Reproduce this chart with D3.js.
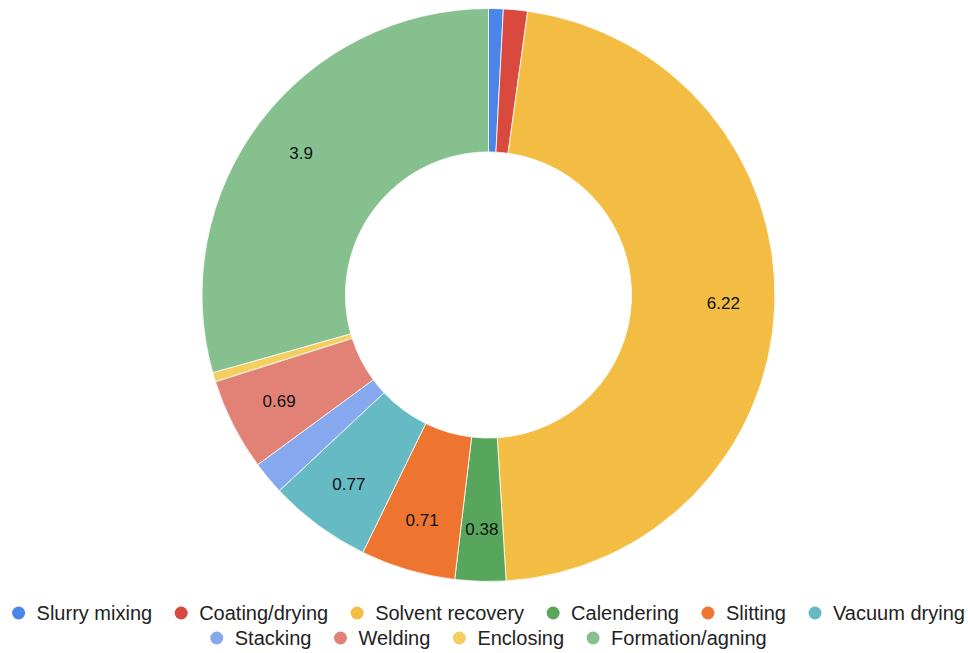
<!DOCTYPE html>
<html>
<head>
<meta charset="utf-8">
<script src="https://cdn.jsdelivr.net/npm/d3@7"></script>
<style>
  html, body { margin: 0; padding: 0; background: #fff; }
  svg { display: block; font-family: "Liberation Sans", Arial, Helvetica, sans-serif; }
</style>
</head>
<body>
<svg id="chart" width="968" height="653"></svg>
<script>
// Energy use per production step
const categories = ["Slurry mixing", "Coating/drying", "Solvent recovery", "Calendering", "Slitting",
                    "Vacuum drying", "Stacking", "Welding", "Enclosing", "Formation/agning"];
const values = [0.11, 0.18, 6.22, 0.38, 0.71, 0.77, 0.25, 0.69, 0.07, 3.9];
const colors = ["#4a86e8", "#d9493e", "#f2bd42", "#57a65b", "#ee7530",
                "#65bac4", "#86a8ee", "#e28277", "#f4cf5f", "#85c08e"];
// Legend rows (indices into categories)
const legendRows = [[0, 1, 2, 3, 4, 5], [6, 7, 8, 9]];

const W = 968, H = 653;
const cx = 488.5, cy = 295;
const outerR = 286.5, innerR = 143;
const labelR = 235;
const minLabelValue = 0.3;

const svg = d3.select("#chart");

const color = d3.scaleOrdinal().domain(categories).range(colors);

const pie = d3.pie().sort(null).value(d => d.value);
const data = pie(categories.map((c, i) => ({ name: c, value: values[i] })));

const arc = d3.arc().innerRadius(innerR).outerRadius(outerR);
const labelArc = d3.arc().innerRadius(labelR).outerRadius(labelR);

const g = svg.append("g").attr("transform", `translate(${cx},${cy})`);

g.selectAll("path.slice")
  .data(data)
  .join("path")
  .attr("class", "slice")
  .attr("d", arc)
  .attr("fill", d => color(d.data.name))
  .attr("stroke", "#ffffff")
  .attr("stroke-width", 0.8);

g.selectAll("text.val")
  .data(data.filter(d => d.data.value >= minLabelValue))
  .join("text")
  .attr("class", "val")
  .attr("transform", d => `translate(${labelArc.centroid(d)})`)
  .attr("text-anchor", "middle")
  .attr("dominant-baseline", "central")
  .attr("font-size", 17)
  .attr("fill", "#111")
  .text(d => d.data.value);

// Legend
const legendFont = 20;
const dotR = 6.5, dotGap = 18, itemGap = 29;
const rowY = [613, 638];

legendRows.forEach((row, ri) => {
  const lg = svg.append("g");
  const items = lg.selectAll("g.item")
    .data(row)
    .join("g")
    .attr("class", "item");
  items.append("circle")
    .attr("r", dotR)
    .attr("fill", i => color(categories[i]));
  items.append("text")
    .attr("x", dotGap)
    .attr("dominant-baseline", "central")
    .attr("font-size", legendFont)
    .attr("fill", "#222")
    .text(i => categories[i]);
  // place items one after another using measured text widths
  let x = 0;
  const starts = [];
  items.each(function () {
    const tw = d3.select(this).select("text").node().getComputedTextLength();
    starts.push(x);
    x += dotGap + tw + itemGap;
  });
  const total = x - itemGap + dotR;
  const left = cx - total / 2 + dotR;
  items.attr("transform", (d, k) => `translate(${left + starts[k]},${rowY[ri]})`);
});
</script>
</body>
</html>
